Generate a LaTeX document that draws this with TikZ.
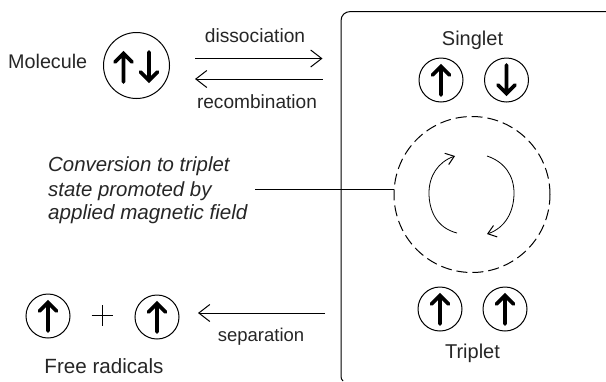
\documentclass[tikz,border=0pt]{standalone}
\usepackage{fontspec}
\setmainfont{Liberation Sans}
\usetikzlibrary{arrows.meta}
\newcommand{\lblsize}[1]{\fontsize{#1}{22}\selectfont}
\tikzset{
  x=1pt,y=-1pt,
  lbl/.style={inner sep=0pt,text=black!85,anchor=base},
  spin/.style={circle,draw,line width=1pt,minimum size=44pt,inner sep=0pt},
  bigspin/.style={circle,draw,line width=1pt,minimum size=66pt,inner sep=0pt},
  thin line/.style={line width=1pt},
  barb/.style={thin line,-{Straight Barb[length=11pt,width=17pt,line width=1pt]}},
  arc barb/.style={line width=.8pt,-{Straight Barb[length=8pt,width=12pt,line width=1pt]}},
  spinup/.pic={\draw[line width=3.6pt,line cap=round,line join=miter] (0,15)--(0,-13) (-8.5,-5)--(0,-13.5)--(8.5,-5);},
  spindown/.pic={\draw[line width=3.6pt,line cap=round,line join=miter] (0,-15)--(0,13) (-8.5,5)--(0,13.5)--(8.5,5);},
}
\begin{document}
\begin{tikzpicture}
\useasboundingbox (0,0) rectangle (606,381);
% box
\draw[line width=1pt] (606,11.5) -- (351,11.5) .. controls (345,11.5) and (341,15) .. (341,21) -- (341,376) .. controls (341,378) and (341.5,380) .. (343,381);
% molecule
\node[lbl,anchor=base west,font=\lblsize{19.75}] (molecule) at (8,68) {Molecule};
\node[bigspin] (mol) at (136.5,65.5) {};
\pic at (123.5,67) {spinup};
\pic at (149,67) {spindown};
% dissociation / recombination
\node[lbl,font=\lblsize{19.2}] (diss) at (255,42) {dissociation};
\node[lbl,font=\lblsize{19.1}] (reco) at (257,108) {recombination};
\coordinate (d1) at (195,58.5); \coordinate (d2) at (322.5,58.5);
\coordinate (r1) at (322.5,79); \coordinate (r2) at (195,79);
\draw[barb] (d1) -- (d2);
\draw[barb] (r1) -- (r2);
% singlet
\node[lbl,font=\lblsize{20}] (singlet) at (472.5,45) {Singlet};
\node[spin] (s1) at (441,80) {};
\node[spin] (s2) at (506.5,80) {};
\pic at (s1) {spinup};
\pic at (s2) {spindown};
% dashed circle
\node[circle,draw,line width=1pt,dash pattern=on 11pt off 5pt,minimum size=156pt,inner sep=0pt] (field) at (472,194.5) {};
\draw[arc barb] (457,233) .. controls (437,228) and (429,211) .. (429,193) .. controls (429,176) and (438,162) .. (455,156);
\draw[arc barb] (487,156) .. controls (505,162) and (514,176) .. (514,193) .. controls (514,212) and (505,228) .. (487,234);
% conversion label
\node[lbl,anchor=base west,font=\lblsize{20.4}\itshape] (c1) at (48,171.5) {Conversion to triplet};
\node[lbl,anchor=base west,font=\lblsize{20.4}\itshape] (c2) at (48,196) {state promoted by};
\node[lbl,anchor=base west,font=\lblsize{20.6}\itshape] (c3) at (48,219) {applied magnetic field};
\coordinate (cl) at (255,189.5);
\draw[thin line] (cl) -- (field.west |- cl);
% triplet
\node[spin] (t1) at (440,309) {};
\node[spin] (t2) at (505,309) {};
\pic at (t1) {spinup};
\pic at (t2) {spinup};
\node[lbl,font=\lblsize{20}] (triplet) at (472.5,358) {Triplet};
% separation
\coordinate (p1) at (325,313); \coordinate (p2) at (198,313);
\draw[barb] (p1) -- (p2);
\node[lbl,font=\lblsize{18.5}] (sep) at (261,341) {separation};
% free radicals
\node[spin] (f1) at (48,316) {};
\node[spin] (f2) at (157,317) {};
\pic at (f1) {spinup};
\pic at (f2) {spinup};
\draw[line width=.8pt] (91.5,315.5) -- (113,315.5) (102,305) -- (102,326);
\node[lbl,font=\lblsize{20.6}] (free) at (104,373) {Free radicals};
\end{tikzpicture}
\end{document}
